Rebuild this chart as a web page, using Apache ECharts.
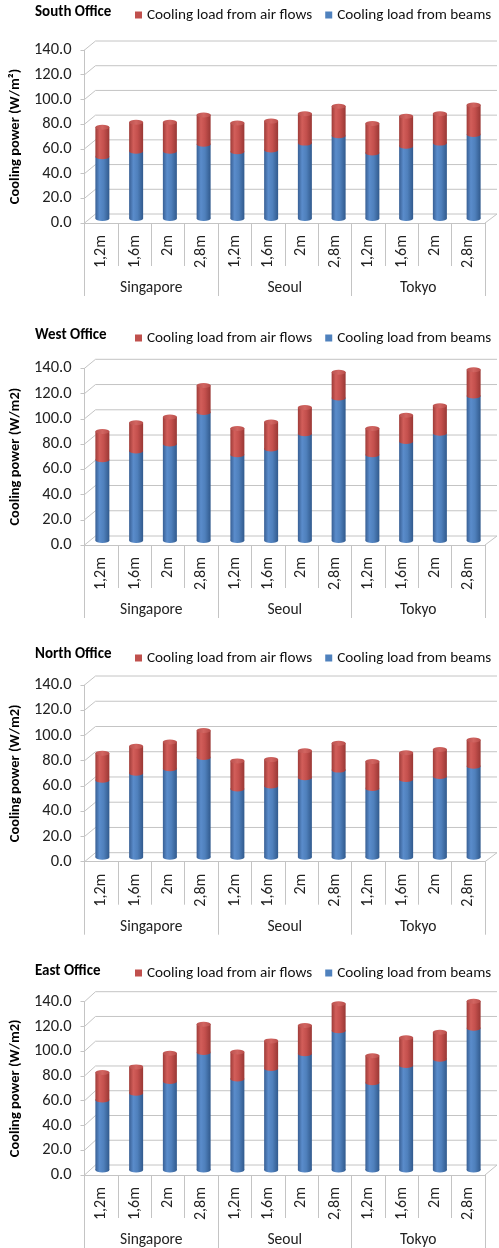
<!DOCTYPE html>
<html>
<head>
<meta charset="utf-8">
<script src="https://cdn.jsdelivr.net/npm/echarts@6/dist/echarts.min.js"></script>
<style>
  html, body { margin: 0; padding: 0; background: #fff; }
  #chart { width: 499px; height: 1248px; }
</style>
</head>
<body>
<div id="chart"></div>
<script>
// Categories and labels
const cities = ['Singapore', 'Seoul', 'Tokyo'];
const spacings = ['1,2m', '1,6m', '2m', '2,8m'];
const yTicks = [0, 20, 40, 60, 80, 100, 120, 140];
const airName = 'Cooling load from air flows';
const beamName = 'Cooling load from beams';
const officeTitles = ['South Office', 'West Office', 'North Office', 'East Office'];
const yTitles = ['Cooling power (W/m\u00B2)', 'Cooling power (W/m2)', 'Cooling power (W/m2)', 'Cooling power (W/m2)'];

// Cooling loads (W/m2), order: Singapore, Seoul, Tokyo x 1,2m / 1,6m / 2m / 2,8m
const southBeams = [50, 54.5, 54.5, 60, 54, 55.5, 61, 67, 53, 58.5, 61, 68];
const southAir   = [24, 23.5, 23.5, 24, 23.5, 23.5, 24, 24, 24, 24.5, 24, 24];
const westBeams  = [64, 71, 76.5, 101.5, 68, 72.5, 84.5, 113, 68, 78.5, 85, 114.5];
const westAir    = [22.5, 22.5, 21.5, 21.5, 21, 21.5, 21, 20.5, 21, 21, 22, 21];
const northBeams = [61, 66.5, 70, 79, 54, 56.5, 63, 69, 54.5, 61.5, 64, 72];
const northAir   = [21.5, 21.5, 21.5, 21.5, 22.5, 21, 21.5, 21.5, 21.5, 21.5, 21.5, 21];
const eastBeams  = [56.5, 62, 71.5, 95, 73.5, 82, 94, 112.5, 70.5, 84.5, 89.5, 114.5];
const eastAir    = [22.5, 21.5, 23, 23, 22, 22.5, 23, 22, 22, 22.5, 22, 22];

const beamsByOffice = [southBeams, westBeams, northBeams, eastBeams];
const airByOffice = [southAir, westAir, northAir, eastAir];

// Panel placement: front plane of the plot (value axis 140 -> 0), depth offset of back wall
const panels = [
  { top: 50,     height: 173,   depth: 9,  titleTop: 0,   legendTop: 7.5 },
  { top: 368.3,  height: 176.7, depth: 9,  titleTop: 323, legendTop: 330.5 },
  { top: 685,    height: 176.7, depth: 9,  titleTop: 642, legendTop: 650.5 },
  { top: 1001.7, height: 173.3, depth: 10, titleTop: 959, legendTop: 965.5 }
];

const FONT = 'Carlito, Lato, "Liberation Sans", sans-serif';
const GRID_COLOR = '#c4c4c4';
const TEXT_COLOR = '#222222';
const PLOT_LEFT = 80;
const PLOT_WIDTH = 405;
const BACK_DX = 11;

const categories = [];
cities.forEach(() => spacings.forEach(s => categories.push(s)));

function hGrad(stops) {
  return { type: 'linear', x: 0, y: 0, x2: 1, y2: 0,
    colorStops: stops.map(s => ({ offset: s[0], color: s[1] })) };
}
const blueFill = hGrad([[0, '#385f94'], [0.3, '#5a8ccb'], [0.6, '#4f80bc'], [1, '#315a8d']]);
const redFill = hGrad([[0, '#9e3b38'], [0.3, '#d25e5a'], [0.6, '#c4504d'], [1, '#993835']]);
const redTop = hGrad([[0, '#b9514e'], [0.5, '#d26561'], [1, '#b84d4a']]);

// Back-wall gridlines: slanted from the front axis to the back wall, then flat
function wallLines(depth) {
  return function (params, api) {
    const cs = params.coordSys;
    const v = api.value(1);
    const y = api.coord([0, v])[1];
    const children = [{
      type: 'polyline',
      shape: { points: [[cs.x, y], [cs.x + BACK_DX, y - depth], [cs.x + cs.width + BACK_DX + 1, y - depth]] },
      style: { stroke: GRID_COLOR, lineWidth: 1, fill: null }
    }];
    if (v === 0) {
      children.push({
        type: 'line',
        shape: { x1: cs.x + cs.width, y1: y, x2: cs.x + cs.width + BACK_DX + 1, y2: y - depth },
        style: { stroke: GRID_COLOR, lineWidth: 1 }
      });
    }
    return { type: 'group', children };
  };
}

const option = {
  animation: false,
  backgroundColor: '#ffffff',
  title: [], legend: [], grid: [], xAxis: [], yAxis: [], series: []
};

panels.forEach((p, i) => {
  const beams = beamsByOffice[i];
  const air = airByOffice[i];
  const totals = beams.map((b, k) => b + air[k]);

  option.title.push({
    text: officeTitles[i], left: 30, top: p.titleTop,
    textStyle: { fontFamily: FONT, fontWeight: 'bold', fontSize: 15, color: '#000' }
  });
  option.legend.push({
    left: 135, top: p.legendTop, width: 364, padding: 0,
    icon: 'rect', itemWidth: 7, itemHeight: 7, itemGap: 13,
    selectedMode: false,
    textStyle: { fontFamily: FONT, fontSize: 15.2, color: '#111' },
    data: [
      { name: airName, itemStyle: { color: '#c0504d' } },
      { name: beamName, itemStyle: { color: '#4f81bd' } }
    ]
  });

  // front plane (axes) and mid-depth plane (columns)
  option.grid.push({ left: PLOT_LEFT, top: p.top, width: PLOT_WIDTH, height: p.height });
  option.grid.push({ left: PLOT_LEFT + BACK_DX / 2, top: p.top - p.depth / 2, width: PLOT_WIDTH, height: p.height });
  const gFront = 2 * i, gBars = 2 * i + 1;

  option.xAxis.push({
    gridIndex: gFront, type: 'category', position: 'bottom', data: categories,
    axisLine: { show: true, lineStyle: { color: GRID_COLOR } },
    axisTick: { show: true, interval: 0, length: 43, lineStyle: { color: GRID_COLOR } },
    axisLabel: { interval: 0, rotate: 90, margin: 12, fontFamily: FONT, fontSize: 16, color: TEXT_COLOR }
  });
  option.xAxis.push({
    gridIndex: gFront, type: 'category', position: 'bottom', offset: 0, data: cities,
    axisLine: { show: false },
    axisTick: { show: true, interval: 0, length: 73, lineStyle: { color: GRID_COLOR } },
    axisLabel: { interval: 0, margin: 57, fontFamily: FONT, fontSize: 15.5, color: TEXT_COLOR }
  });
  option.xAxis.push({ gridIndex: gBars, type: 'category', data: categories, show: false });

  option.yAxis.push({
    gridIndex: gFront, type: 'value', min: 0, max: 140, interval: 20,
    axisLine: { show: true, lineStyle: { color: GRID_COLOR } },
    axisTick: { show: true, length: 4, lineStyle: { color: GRID_COLOR } },
    splitLine: { show: false },
    axisLabel: { margin: 13, fontFamily: FONT, fontSize: 16.5, color: TEXT_COLOR,
      formatter: v => v.toFixed(1) },
    name: yTitles[i], nameLocation: 'middle', nameGap: 55,
    nameTextStyle: { fontFamily: FONT, fontWeight: 'bold', fontSize: 14.5, color: '#000' }
  });
  option.yAxis.push({ gridIndex: gBars, type: 'value', min: 0, max: 140, interval: 20, show: false });

  const xF = 3 * i, xB = 3 * i + 2, yF = 2 * i, yB = 2 * i + 1;

  option.series.push({
    type: 'custom', xAxisIndex: xF, yAxisIndex: yF, silent: true, clip: false, z: 1,
    renderItem: wallLines(p.depth), data: yTicks.map(v => [0, v])
  });
  option.series.push({
    name: beamName, type: 'bar', stack: 'load' + i, xAxisIndex: xB, yAxisIndex: yB,
    barWidth: 14, z: 3, itemStyle: { color: blueFill }, data: beams
  });
  option.series.push({
    name: airName, type: 'bar', stack: 'load' + i, xAxisIndex: xB, yAxisIndex: yB,
    barWidth: 14, z: 3, itemStyle: { color: redFill }, data: air
  });
  // cylinder base
  option.series.push({
    type: 'pictorialBar', xAxisIndex: xB, yAxisIndex: yB, silent: true, z: 3,
    symbol: 'circle', symbolSize: [14, 5], symbolPosition: 'start', symbolOffset: [0, '50%'],
    itemStyle: { color: blueFill }, data: beams
  });
  // join between the two segments
  option.series.push({
    type: 'pictorialBar', xAxisIndex: xB, yAxisIndex: yB, silent: true, z: 4,
    symbol: 'circle', symbolSize: [14, 5], symbolPosition: 'end', symbolOffset: [0, '-50%'],
    itemStyle: { color: redFill }, data: beams
  });
  // cylinder top
  option.series.push({
    type: 'pictorialBar', xAxisIndex: xB, yAxisIndex: yB, silent: true, z: 5,
    symbol: 'circle', symbolSize: [14, 5], symbolPosition: 'end', symbolOffset: [0, '-50%'],
    itemStyle: { color: redTop, borderColor: '#953633', borderWidth: 0.8 }, data: totals
  });
});

const chart = echarts.init(document.getElementById('chart'), null, { renderer: 'canvas' });
chart.setOption(option);
</script>
</body>
</html>
